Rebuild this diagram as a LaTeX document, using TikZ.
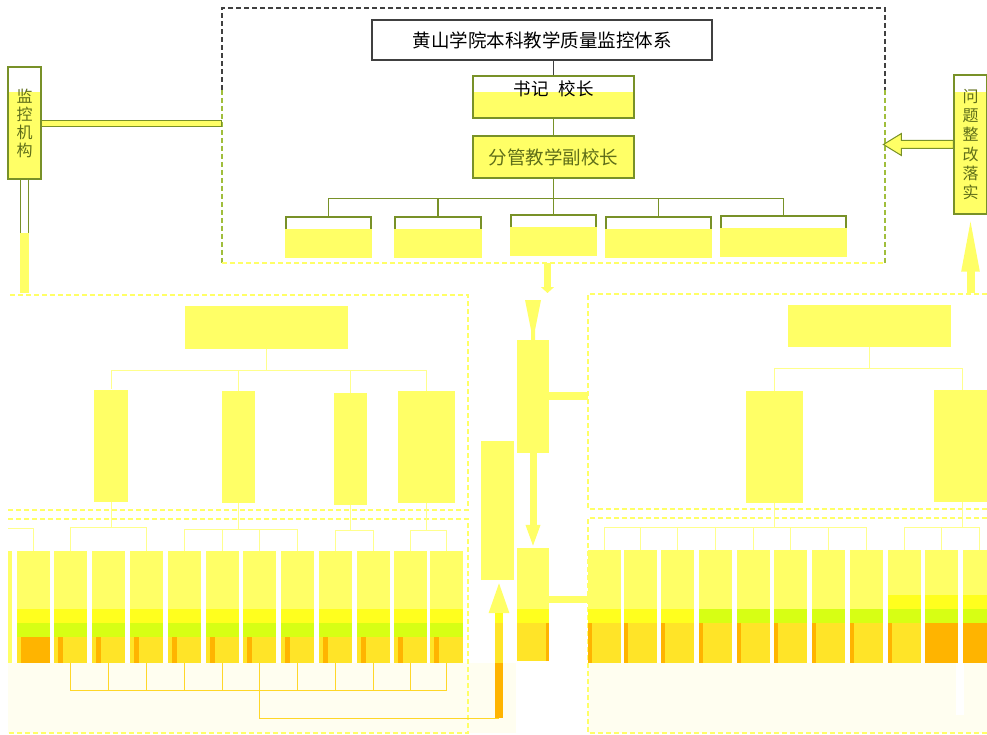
\documentclass[tikz,border=0pt]{standalone}
\usepackage{fontspec}
\newfontfamily\cjk{Noto Sans CJK SC}
\usetikzlibrary{calc,arrows.meta}
\definecolor{ylw}{RGB}{255,255,102}
\definecolor{brt}{RGB}{255,255,30}
\definecolor{ygr}{RGB}{215,255,20}
\definecolor{gld}{RGB}{255,228,40}
\definecolor{org}{RGB}{255,180,0}
\definecolor{crm}{RGB}{255,254,240}
\definecolor{lyl}{RGB}{255,255,140}
\definecolor{gln}{RGB}{255,215,40}
\definecolor{olv}{RGB}{120,145,40}
\definecolor{otx}{RGB}{95,110,25}
\definecolor{dgr}{RGB}{64,64,64}
\definecolor{gyl}{RGB}{160,190,60}
\begin{document}
\begin{tikzpicture}[x=1pt, y=-1pt, font=\cjk,
    box/.style = {draw=olv, line width=1.2pt, inner sep=0pt},
    unit/.style = {fill=ylw, inner sep=0pt},
    half/.style = {fill=white, path picture={\fill[ylw] ($(path picture bounding box.north west)+(0,#1)$) rectangle (path picture bounding box.south east);}},
    ln/.style = {draw=lyl, line width=1pt},
    lnb/.style = {draw=gln, line width=1pt},
    fr/.style = {dash pattern=on 5pt off 3pt, line width=1.3pt}]
    \useasboundingbox (0,0) rectangle (987,735);
    \clip (0,0) rectangle (987,735);
    \fill[white] (0,0) rectangle (987,735);

    % top part
    \draw[fr, dgr] (222,90) -- (222,8) -- (885,8) -- (885,90);
    \draw[fr, gyl] (222,90) -- (222,263);
    \draw[fr, gyl] (885,90) -- (885,263);
    \draw[fr, ylw] (222,263) -- (885,263);

    \node[box, draw=dgr, line width=1.5pt, fill=white, minimum width=340, minimum height=40, font=\cjk\fontsize{18.5}{19}\selectfont] (t) at (542,40) {黄山学院本科教学质量监控体系};
    \node[box, half=16, minimum width=161, minimum height=42] (sj) at (553.5,97) {};
    \node[font=\cjk\fontsize{17.5}{18}\selectfont] (sjt) at ([yshift=8pt]sj.center) {书记\hspace{10pt}校长};
    \node[box, fill=ylw, text=otx, minimum width=161, minimum height=42, font=\cjk\fontsize{18.5}{19}\selectfont] (fg) at (553.5,157) {分管教学副校长};
    \foreach \n/\x/\y/\w in {1/328.5/237/85, 2/438/237/86, 3/553.5/235/85, 4/658.5/237/105, 5/783.5/236/125}
        \node[box, fill=white, minimum width=\w, minimum height=40] (d\n) at (\x,\y) {};
    \foreach \n in {1,...,5}
        \fill[ylw] ($(d\n.north west)+(-0.8,13)$) rectangle ($(d\n.south east)+(0.8,0.8)$);

    \draw[dgr, line width=1.5pt] (sj.north) -- (sj.north |- t.south);
    \draw[olv, line width=1.2pt] (sj) -- (fg);
    \foreach \n in {1,...,5}
        \draw[olv, line width=1.2pt] (fg.south) -- ++(0,20) -| (d\n.north);

    % left and right side boxes
    \node[box, half=25, minimum width=33, minimum height=112, align=center, text=otx, font=\cjk\fontsize{16}{18}\selectfont] (jk) at (24.5,123) {监\\控\\机\\构};
    \coordinate (fl) at (222,123.5);
    \draw[olv, line width=7.5pt] (jk.east |- fl) -- (fl);
    \draw[ylw, line width=5.5pt] (jk.east |- fl) -- ([xshift=-1pt]fl);
    \coordinate (jkb) at (24.5,293);
    \draw[olv, line width=8.5pt] (jk.south) -- ++(0,53);
    \draw[white, line width=6.5pt] (jk.south) -- ++(0,53);
    \draw[ylw, line width=8.5pt] ($(jk.south)+(0,53)$) -- (jkb);

    \node[box, half=17, minimum width=33, minimum height=139, align=center, text=otx, font=\cjk\fontsize{16}{19.2}\selectfont] (wt) at (970.5,144.5) {问\\题\\整\\改\\落\\实};
    \draw[olv, line width=1pt, fill=ylw] ($(wt.west)+(0,-4)$) -- ++(-52,0) -- ++(0,-7) -- ++(-18,11) -- ++(18,11) -- ++(0,-7) -- ++(52,0) -- cycle;
    \coordinate (wtb) at (970.5,293);
    \draw[ylw, line width=8pt, -{Triangle[length=57pt, width=16pt]}] (wtb) -- (wt);

    % middle column
    \coordinate (mt) at (547.5,263);
    \coordinate (mtb) at (547.5,293);
    \draw[ylw, line width=7pt, -{Triangle[length=6pt, width=13pt]}] (mt) -- (mtb);
    \fill[ylw] (525,300) -- (541,300) -- (535,330) -- (535,340) -- (531,340) -- (531,330) -- cycle;
    \node[unit, minimum width=32, minimum height=113] (a) at (533,396.5) {};
    \coordinate (ar) at (588,396);
    \draw[ylw, line width=8pt] (a.east |- ar) -- (ar);
    \node[unit, minimum width=32, minimum height=113] (b) at (533,604.5) {};
    \fill[brt] ($(b.south west)+(0,-52)$) rectangle ($(b.south east)+(0,-38)$);
    \fill[gld] ($(b.south west)+(0,-38)$) rectangle (b.south east);
    \fill[org] ($(b.south east)+(-3,-38)$) rectangle (b.south east);
    \coordinate (br) at (588,599.5);
    \draw[ylw, line width=7pt] (b.east |- br) -- (br);
    \draw[ylw, line width=7pt, -{Triangle[length=23pt, width=13pt]}] (a) -- (b);
    \node[unit, minimum width=33, minimum height=139] (c) at (497.5,510.5) {};

    % left lower part
    \fill[crm] (8,663) rectangle (516,733);
    \draw[fr, ylw] (10,295) -- (468,295) -- (468,510) -- (8,510);
    \draw[fr, ylw] (8,519) -- (468,519) -- (468,733) -- (8,733);
    \node[unit, minimum width=163, minimum height=43] (l0) at (266.5,327.5) {};
    \foreach \n/\x/\y/\w in {1/111/445.5/34, 2/238.5/447/33, 3/350.5/449/33, 4/426.5/447/57}
        \node[unit, minimum width=\w, minimum height=112] (l\n) at (\x,\y) {};
    \foreach \n in {1,...,4}
        \draw[ln] (l0.south) -- ++(0,21) -| (l\n.north);

    \fill[ylw] (8,551) rectangle (12,663);
    \foreach \x [count=\n] in {17,54,92,130,168,206,243,281,319,357,394,430}
        \node[unit, minimum width=33, minimum height=112, anchor=north west] (lb\n) at (\x,551) {};
    \foreach \n in {1,...,12} {
        \fill[brt] ($(lb\n.south west)+(0,-54)$) rectangle ($(lb\n.south east)+(0,-40)$);
        \fill[ygr] ($(lb\n.south west)+(0,-40)$) rectangle ($(lb\n.south east)+(0,-26)$);
        \fill[gld] ($(lb\n.south west)+(0,-26)$) rectangle (lb\n.south east);
        \fill[org] ($(lb\n.south west)+(4,-26)$) rectangle ($(lb\n.south west)+(9,0)$);
    }
    \fill[org] ($(lb1.south west)+(9,-26)$) rectangle (lb1.south east);

    \coordinate (le) at (8,528);
    \draw[ln] (le) -| (lb1.north);
    \foreach \n in {2,4}
        \draw[ln] (l1.south) -- ++(0,26) -| (lb\n.north);
    \foreach \n in {5,...,8}
        \draw[ln] (l2.south) -- ++(0,26) -| (lb\n.north);
    \foreach \n in {9,10}
        \draw[ln] (l3.south) -- ++(0,25) -| (lb\n.north);
    \foreach \n in {11,12}
        \draw[ln] (l4.south) -- ++(0,27) -| (lb\n.north);

    \coordinate (lbus) at (260,690);
    \coordinate (up) at (499,718);
    \foreach \n in {2,...,12}
        \draw[lnb] (lb\n.south) |- (lbus);
    \draw[lnb] (lb7.south) |- (up);
    \draw[ylw, line width=8pt, -{Triangle[length=33pt, width=18pt]}] (up) -- (c.south -| up);
    \fill[brt] (495,613) rectangle (503,623);
    \fill[gld] (495,623) rectangle (503,663);
    \fill[org] (495,663) rectangle (503,718);

    % right lower part
    \fill[crm] (588,663) rectangle (987,733);
    \fill[white] (956,663) rectangle (964,715);
    \draw[fr, ylw] (987,294) -- (588,294) -- (588,509) -- (987,509);
    \draw[fr, ylw] (987,518) -- (588,518) -- (588,733) -- (987,733);
    \node[unit, minimum width=163, minimum height=42] (r0) at (869.5,326) {};
    \node[unit, minimum width=57, minimum height=112] (r1) at (774.5,447) {};
    \node[unit, minimum width=57, minimum height=112] (r2) at (962.5,446) {};
    \foreach \n in {1,2}
        \draw[ln] (r0.south) -- ++(0,21) -| (r\n.north);

    \foreach \x [count=\n] in {588,624,661,699,737,774,812,850,888,925,963}
        \node[unit, minimum width=33, minimum height=113, anchor=north west] (rb\n) at (\x,550) {};
    \foreach \n in {1,...,11} {
        \fill[gld] ($(rb\n.south west)+(0,-40)$) rectangle (rb\n.south east);
        \fill[org] ($(rb\n.south west)+(0,-40)$) rectangle ($(rb\n.south west)+(4,0)$);
    }
    \foreach \n in {1,2,3}
        \fill[brt] ($(rb\n.south west)+(0,-54)$) rectangle ($(rb\n.south east)+(0,-40)$);
    \foreach \n in {4,...,11}
        \fill[ygr] ($(rb\n.south west)+(0,-54)$) rectangle ($(rb\n.south east)+(0,-40)$);
    \foreach \n in {9,10,11}
        \fill[brt] ($(rb\n.south west)+(0,-68)$) rectangle ($(rb\n.south east)+(0,-54)$);
    \foreach \n in {10,11}
        \fill[org] ($(rb\n.south west)+(0,-40)$) rectangle (rb\n.south east);

    \foreach \n in {1,...,8}
        \draw[ln] (r1.south) -- ++(0,24) -| (rb\n.north);
    \foreach \n in {9,10,11}
        \draw[ln] (r2.south) -- ++(0,25) -| (rb\n.north);
\end{tikzpicture}
\end{document}
